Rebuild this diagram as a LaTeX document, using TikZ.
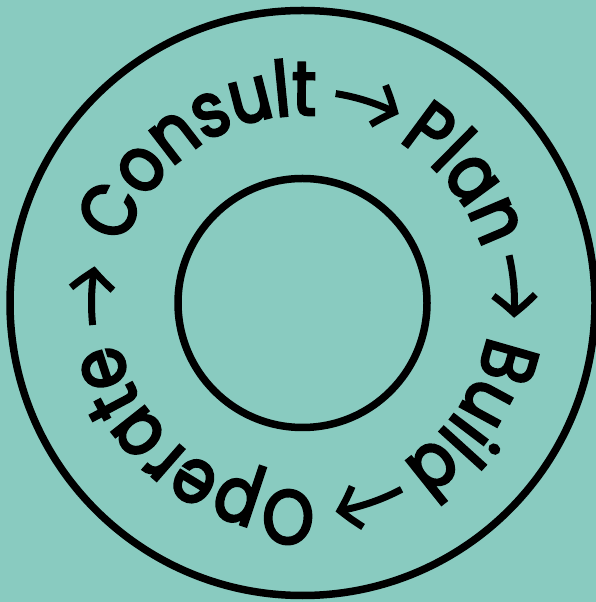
\documentclass[tikz,border=0pt]{standalone}
\usepackage{fontspec}
\newfontfamily\wordfontfam[FakeBold=3.6,FakeStretch=0.86]{Poppins}
\usetikzlibrary{decorations.text,arrows.meta,bending}
\definecolor{bgteal}{RGB}{137,203,192}
\newcommand{\wordfont}{\wordfontfam\fontsize{76}{76}\selectfont}
\tikzset{
  ring/.style={draw=black,line width=7.5pt},
  word/.style={decorate,decoration={text along path,text={|\wordfont|#1},text align=center}},
  flowarrow/.style={draw=black,line width=7pt,-{Straight Barb[length=18pt,width=42pt,bend]}}
}
\begin{document}
\begin{tikzpicture}[x=1pt,y=1pt]
\useasboundingbox (0,0) rectangle (596,602);
\fill[bgteal] (0,0) rectangle (596,602);
\coordinate (c) at (302.5,299);
\draw[ring] (c) circle[radius=292.5pt];
\draw[ring] (c) circle[radius=124.5pt];
% words (centred on their measured mid angles)
\path[word=Consult] (c) ++(184:188pt) arc[start angle=184,end angle=64,radius=188pt];
\path[word=Plan] (c) ++(98:188pt) arc[start angle=98,end angle=-22,radius=188pt];
\path[word=Build] (c) ++(26:188pt) arc[start angle=26,end angle=-94,radius=188pt];
\path[word=Operate] (c) ++(-67:188pt) arc[start angle=-67,end angle=-187,radius=188pt];
% arrows
\draw[flowarrow] (c) ++(81:212pt) arc[start angle=81,end angle=63,radius=212pt];
\draw[flowarrow] (c) ++(13:212pt) arc[start angle=13,end angle=-4,radius=212pt];
\draw[flowarrow] (c) ++(-62:211pt) arc[start angle=-62,end angle=-81,radius=211pt];
\draw[flowarrow] (c) ++(186:211pt) arc[start angle=186,end angle=170,radius=211pt];
\end{tikzpicture}
\end{document}
